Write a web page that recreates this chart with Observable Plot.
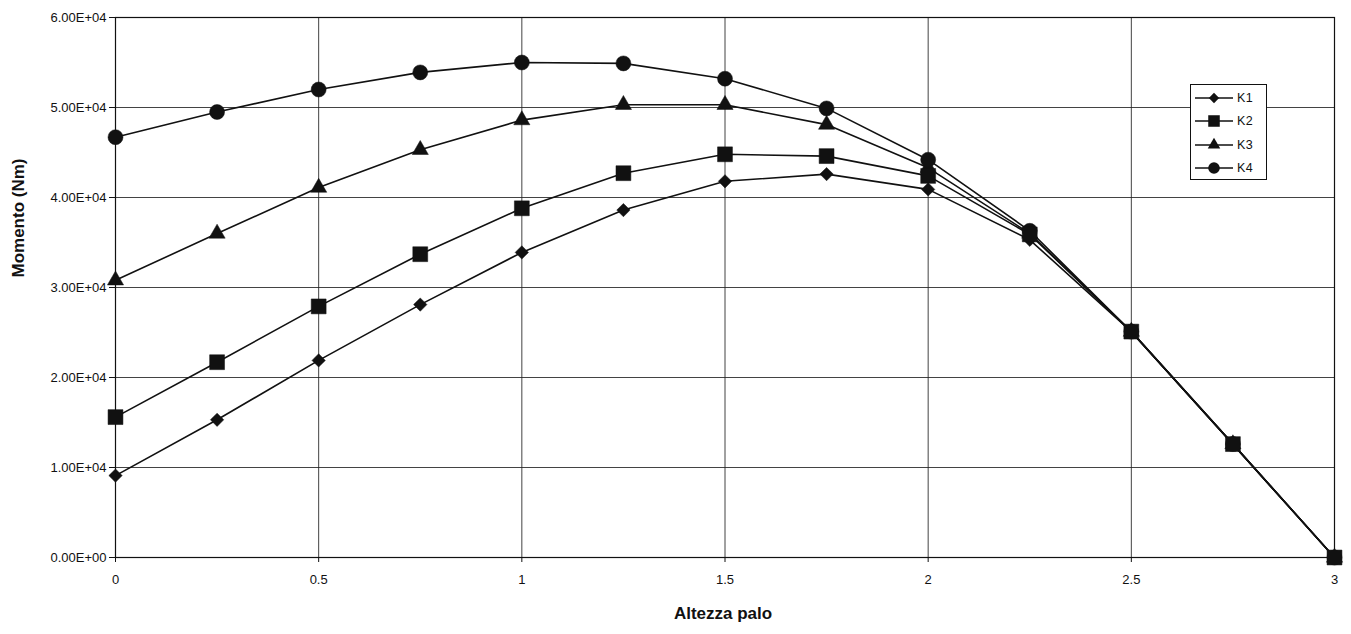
<!DOCTYPE html>
<html><head><meta charset="utf-8">
<script src="https://cdn.jsdelivr.net/npm/d3@7"></script>
<script src="https://cdn.jsdelivr.net/npm/@observablehq/plot@0.6"></script>
<style>
body{margin:0;background:#fff;font-family:"Liberation Sans",Arial,sans-serif;}
#wrap{position:relative;width:1351px;height:634px;}
#legend{position:absolute;left:1190px;top:84px;width:77px;height:96px;border:1px solid #111;background:#fff;box-sizing:border-box;padding-top:1px;}
.lg{display:flex;align-items:center;height:23.5px;font-size:12.5px;color:#111;letter-spacing:0.5px;}
.lg svg{margin-left:4px;margin-right:4px;}
</style></head><body><div id="wrap"></div>
<script>
// Data
const altezza = [0, 0.25, 0.5, 0.75, 1, 1.25, 1.5, 1.75, 2, 2.25, 2.5, 2.75, 3];
const K1 = [9100, 15300, 21900, 28100, 33900, 38600, 41800, 42600, 40900, 35300, 25100, 12600, 0];
const K2 = [15600, 21700, 27900, 33700, 38800, 42700, 44800, 44600, 42400, 35900, 25100, 12600, 0];
const K3 = [30800, 36000, 41100, 45300, 48600, 50300, 50300, 48100, 43300, 36000, 25100, 12600, 0];
const K4 = [46700, 49500, 52000, 53900, 55000, 54900, 53200, 49900, 44200, 36300, 25100, 12600, 0];
const seriesNames = ["K1", "K2", "K3", "K4"];
const seriesValues = {K1, K2, K3, K4};
const drawOrder = ["K1", "K3", "K4", "K2"];
const xTicks = [0, 0.5, 1, 1.5, 2, 2.5, 3];
const yTicks = [0, 10000, 20000, 30000, 40000, 50000, 60000];
const xLabel = "Altezza palo";
const yLabel = "Momento (Nm)";

const symbolOf = {K1: "diamond2", K2: "square", K3: "triangle", K4: "circle"};
const rOf = {K1: 6.0, K2: 8.4, K3: 6.0, K4: 7.5};

const rows = seriesNames.flatMap(s => altezza.map((x, i) => ({serie: s, x, y: seriesValues[s][i]})));

const fmtE = d => {
  const [m, e] = d.toExponential(2).split("e");
  return m + "E" + e[0] + e.slice(1).padStart(2, "0");
};

const marks = [
  Plot.gridX(xTicks, {stroke: "#222", strokeOpacity: 0.85, strokeWidth: 1}),
  Plot.gridY(yTicks, {stroke: "#222", strokeOpacity: 0.85, strokeWidth: 1}),
  Plot.frame({stroke: "#111", strokeWidth: 1.2}),
  Plot.axisY(yTicks, {tickFormat: () => "", tickSize: 6, label: null}),
  Plot.axisX(xTicks, {tickFormat: () => "", tickSize: 5, label: null}),
  Plot.text(yTicks, {y: d => d, text: fmtE, frameAnchor: "left", dx: -9, textAnchor: "end", fontSize: 13, letterSpacing: "1.2px", fill: "#111"}),
  Plot.text(xTicks, {x: d => d, text: d => String(d), frameAnchor: "bottom", dy: 26, fontSize: 13, letterSpacing: "0.5px", fill: "#111"}),
  Plot.text([yLabel], {frameAnchor: "left", dx: -97, dy: -10, rotate: -90, fontWeight: "bold", fontSize: 17, letterSpacing: "1.4px", fill: "#111"}),
  Plot.text([xLabel], {frameAnchor: "bottom", dy: 61, dx: -2, fontWeight: "bold", fontSize: 17, letterSpacing: "0.8px", fill: "#111"})
];
for (const s of drawOrder) {
  const d = rows.filter(r => r.serie === s);
  marks.push(Plot.line(d, {x: "x", y: "y", stroke: "#111", strokeWidth: 1.6}));
  marks.push(Plot.dot(d, {x: "x", y: "y", symbol: () => symbolOf[s], r: rOf[s], fill: "#111", stroke: "#111", strokeWidth: 0.5}));
}

const chart = Plot.plot({
  width: 1351,
  height: 634,
  marginLeft: 115,
  marginRight: 17,
  marginTop: 17,
  marginBottom: 77,
  style: {fontFamily: "'Liberation Sans', Arial, sans-serif", color: "#111", background: "#fff"},
  x: {domain: [0, 3]},
  y: {domain: [0, 60000]},
  symbol: {domain: ["diamond2", "square", "triangle", "circle"], range: ["diamond2", "square", "triangle", "circle"]},
  marks
});
document.getElementById("wrap").appendChild(chart);

// Legend
const legend = document.createElement("div");
legend.id = "legend";
const symFn = {K1: d3.symbolDiamond2, K2: d3.symbolSquare, K3: d3.symbolTriangle, K4: d3.symbolCircle};
for (const s of seriesNames) {
  const row = document.createElement("div");
  row.className = "lg";
  const svg = d3.create("svg").attr("width", 38).attr("height", 16);
  svg.append("line").attr("x1", 0).attr("x2", 38).attr("y1", 8).attr("y2", 8).attr("stroke", "#111").attr("stroke-width", 1.6);
  const size = Math.PI * rOf[s] * rOf[s] * 0.6;
  svg.append("path").attr("transform", "translate(19,8)").attr("d", d3.symbol(symFn[s], size)()).attr("fill", "#111");
  row.appendChild(svg.node());
  const t = document.createElement("span");
  t.textContent = s;
  row.appendChild(t);
  legend.appendChild(row);
}
document.getElementById("wrap").appendChild(legend);
</script>
</body></html>
